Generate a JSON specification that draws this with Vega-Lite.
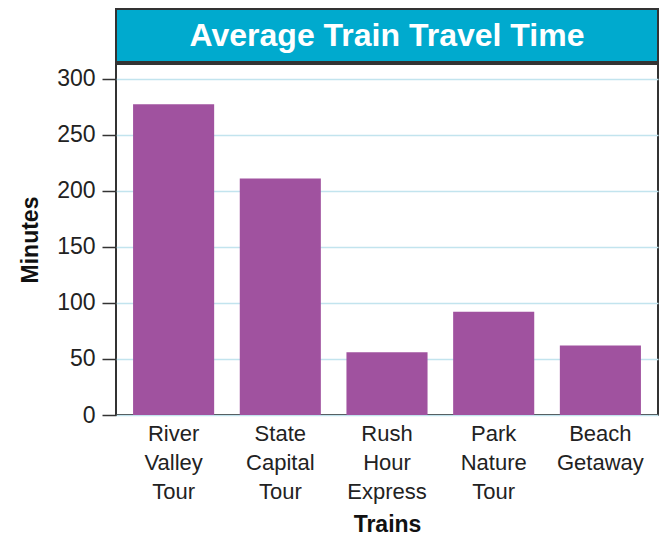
{
  "$schema": "https://vega.github.io/schema/vega-lite/v6.json",
  "background": "white",
  "padding": {"top": 8, "left": 18, "right": 5, "bottom": 0},
  "spacing": 0,
  "config": {
    "font": "Liberation Sans",
    "concat": {"spacing": 0}
  },
  "vconcat": [
    {
      "width": 542,
      "height": 53,
      "data": {"values": [{"title": "Average Train Travel Time"}]},
      "view": {"fill": "#00AACE", "stroke": "#333333", "strokeWidth": 2},
      "mark": {"type": "text", "color": "white", "fontSize": 32, "fontWeight": "bold", "font": "Liberation Sans"},
      "encoding": {"text": {"field": "title"}}
    },
    {
      "width": 542,
      "height": 351,
      "data": {"values": [
        {"train": "River Valley Tour", "minutes": 277},
        {"train": "State Capital Tour", "minutes": 211},
        {"train": "Rush Hour Express", "minutes": 56},
        {"train": "Park Nature Tour", "minutes": 92},
        {"train": "Beach Getaway", "minutes": 62}
      ]},
      "view": {"stroke": "#333333", "strokeWidth": 2},
      "mark": {"type": "bar", "color": "#A0529F"},
      "encoding": {
        "x": {
          "field": "train", "type": "nominal", "sort": null,
          "scale": {"paddingInner": 0.24, "paddingOuter": 0.16},
          "axis": {
            "title": "Trains", "titleFontSize": 23, "titleFontWeight": "bold", "titleColor": "#111111",
            "titlePadding": 11,
            "labelAngle": 0, "labelFontSize": 22, "labelColor": "#222222",
            "labelExpr": "split(datum.label, ' ')", "labelLineHeight": 29,
            "labelPadding": 8, "ticks": false, "domain": false, "grid": false
          }
        },
        "y": {
          "field": "minutes", "type": "quantitative",
          "scale": {"domain": [0, 313], "nice": false},
          "axis": {
            "title": "Minutes", "titleFontSize": 23, "titleFontWeight": "bold", "titleColor": "#111111",
            "titlePadding": 14,
            "values": [0, 50, 100, 150, 200, 250, 300],
            "labelFontSize": 23, "labelColor": "#222222", "labelPadding": 7,
            "tickSize": 14, "tickColor": "#333333", "tickWidth": 1.5,
            "domain": false,
            "grid": true, "gridColor": "#C2E4EE", "gridWidth": 1.5
          }
        }
      }
    }
  ]
}
